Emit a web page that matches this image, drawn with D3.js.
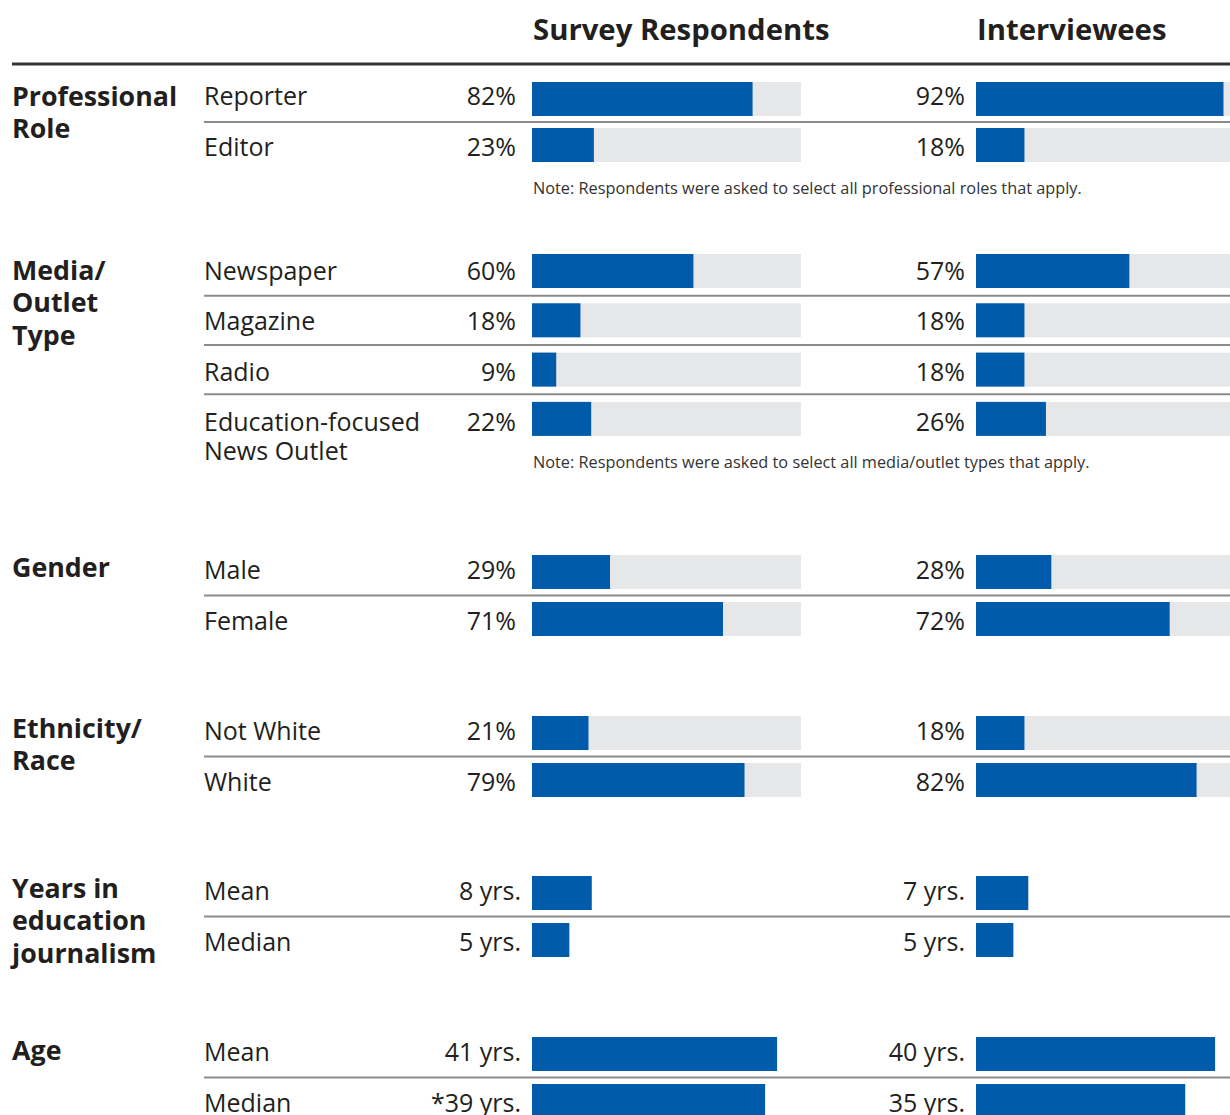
<!DOCTYPE html>
<html>
<head>
<meta charset="utf-8">
<script src="https://cdn.jsdelivr.net/npm/d3@7"></script>
<style>
  html, body { margin: 0; padding: 0; background: #fff; }
  svg { display: block; font-family: "Open Sans", Lato, sans-serif; }
</style>
</head>
<body>
<svg id="chart" width="1230" height="1115"></svg>
<script>
// ---------------- DATA ----------------
const columnTitles = ["Survey Respondents", "Interviewees"];
const groupNames = [
  ["Professional", "Role"],
  ["Media/", "Outlet", "Type"],
  ["Gender"],
  ["Ethnicity/", "Race"],
  ["Years in", "education", "journalism"],
  ["Age"]
];
const groupUnits = ["%", "%", "%", "%", "yrs", "yrs"];
const rowLabels = [
  [["Reporter"], ["Editor"]],
  [["Newspaper"], ["Magazine"], ["Radio"], ["Education-focused", "News Outlet"]],
  [["Male"], ["Female"]],
  [["Not White"], ["White"]],
  [["Mean"], ["Median"]],
  [["Mean"], ["Median"]]
];
const surveyValues = [
  [82, 23],
  [60, 18, 9, 22],
  [29, 71],
  [21, 79],
  [8, 5],
  [41, 39]
];
const interviewValues = [
  [92, 18],
  [57, 18, 18, 26],
  [28, 72],
  [18, 82],
  [7, 5],
  [40, 35]
];
const surveyValuePrefix = [
  ["", ""], ["", "", "", ""], ["", ""], ["", ""], ["", ""], ["", "*"]
];
const groupNotes = [
  "Note: Respondents were asked to select all professional roles that apply.",
  "Note: Respondents were asked to select all media/outlet types that apply.",
  null, null, null, null
];

// ---------------- LAYOUT ----------------
const groupTop = [82, 254, 555, 716, 876, 1037];
const groupPitch = [46, 49.3, 47, 47, 47, 47];
const textFirstBase = [105, 280, 579, 740, 900, 1061];
const textPitch = 50.5;
const groupLabelBase = [106, 280, 577, 738, 898, 1060];
const barH = 34;
const trackW = 269;
const colX = [532, 976];
const valueEnd = [[516, 521], [965, 965]]; // [%, yrs]
const blue = "#005BAA";
const track = "#E6E7E8";
const ink = "#231F20";

const svg = d3.select("#chart");

// scales per unit
const scales = {
  "%": d3.scaleLinear().domain([0, 100]).range([0, trackW]),
  "yrs_years": d3.scaleLinear().domain([0, 36]).range([0, trackW]),
  "yrs_age": d3.scaleLinear().domain([0, 45]).range([0, trackW])
};
function scaleFor(gi) {
  if (groupUnits[gi] === "%") return scales["%"];
  return gi === 4 ? scales["yrs_years"] : scales["yrs_age"];
}

// header
svg.selectAll("text.coltitle").data(columnTitles).join("text")
  .attr("class", "coltitle")
  .attr("x", (d, i) => colX[i] + 1)
  .attr("y", 40)
  .attr("font-size", 29.3)
  .attr("font-weight", 700)
  .attr("fill", ink)
  .text(d => d);

svg.append("line")
  .attr("x1", 12).attr("x2", 1230)
  .attr("y1", 64).attr("y2", 64)
  .attr("stroke", "#333").attr("stroke-width", 3);

groupNames.forEach((gName, gi) => {
  const g = svg.append("g");
  const top = groupTop[gi];
  const pitch = groupPitch[gi];
  const n = rowLabels[gi].length;
  const yBand = i => top + i * pitch;
  const sc = scaleFor(gi);
  const unit = groupUnits[gi];

  // group label
  g.append("text")
    .attr("x", 12)
    .attr("font-size", 26.8)
    .attr("font-weight", 700)
    .attr("fill", ink)
    .selectAll("tspan").data(gName).join("tspan")
    .attr("x", 12)
    .attr("y", (d, i) => groupLabelBase[gi] + i * 32.3)
    .text(d => d);

  // separators
  for (let i = 1; i < n; i++) {
    const sy = (yBand(i - 1) + barH + yBand(i)) / 2;
    g.append("line")
      .attr("x1", 204).attr("x2", 1230)
      .attr("y1", sy).attr("y2", sy)
      .attr("stroke", "#8C8C8C").attr("stroke-width", 2);
  }

  rowLabels[gi].forEach((lbl, ri) => {
    const y0 = yBand(ri);
    const baseY = textFirstBase[gi] + ri * (gi === 1 ? 50.3 : textPitch);
    // row label
    g.append("text")
      .attr("font-size", 25)
      .attr("fill", ink)
      .selectAll("tspan").data(lbl).join("tspan")
      .attr("x", 204)
      .attr("y", (d, i) => baseY + i * 29.5)
      .text(d => d);

    [surveyValues, interviewValues].forEach((vals, ci) => {
      const v = vals[gi][ri];
      if (unit === "%") {
        g.append("rect")
          .attr("x", colX[ci]).attr("y", y0)
          .attr("width", trackW).attr("height", barH)
          .attr("fill", track);
      }
      g.append("rect")
        .attr("x", colX[ci]).attr("y", y0)
        .attr("width", sc(v)).attr("height", barH)
        .attr("fill", blue);
      const prefix = ci === 0 ? surveyValuePrefix[gi][ri] : "";
      g.append("text")
        .attr("x", valueEnd[ci][unit === "%" ? 0 : 1])
        .attr("y", baseY)
        .attr("text-anchor", "end")
        .attr("font-size", 25)
        .attr("fill", ink)
        .text(prefix + v + (unit === "%" ? "%" : " yrs."));
    });
  });

  if (groupNotes[gi]) {
    g.append("text")
      .attr("x", 533)
      .attr("y", yBand(n - 1) + barH + 32)
      .attr("font-size", 16.3)
      .attr("fill", "#333")
      .text(groupNotes[gi]);
  }
});
</script>
</body>
</html>
